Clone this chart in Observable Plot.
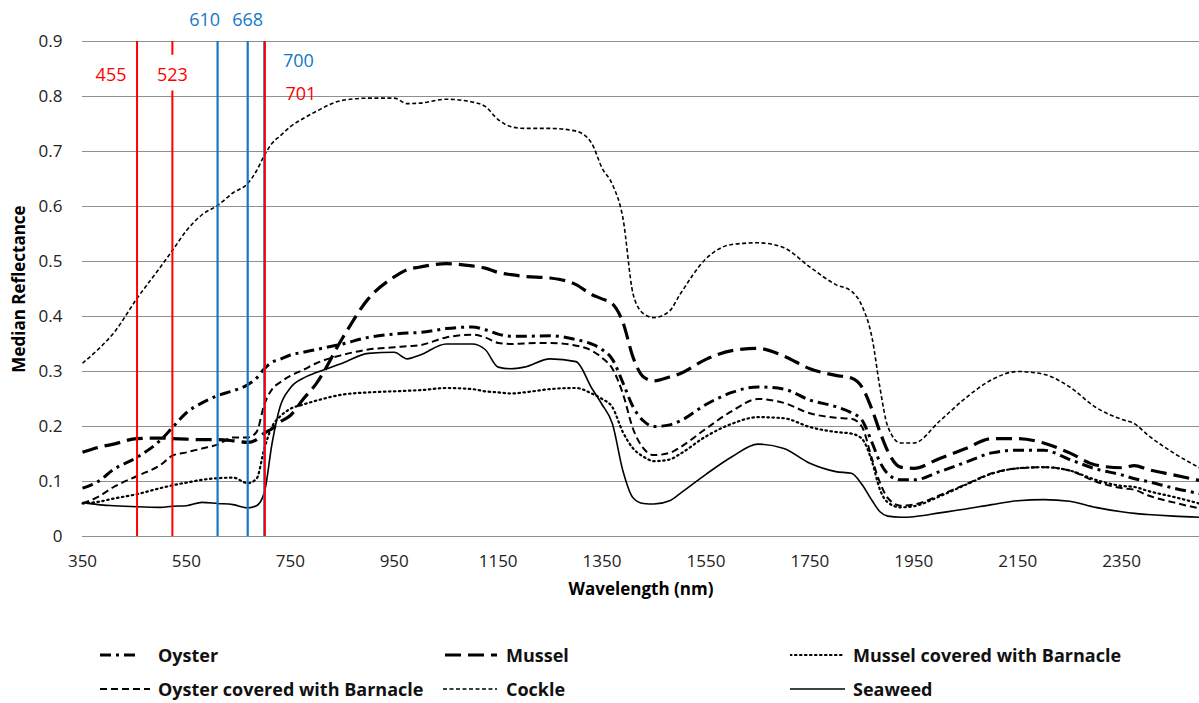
<!DOCTYPE html>
<html><head><meta charset="utf-8">
<script src="https://cdn.jsdelivr.net/npm/d3@7"></script>
<script src="https://cdn.jsdelivr.net/npm/@observablehq/plot@0.6"></script>
<style>
body{margin:0;background:#fff;font-family:"Open Sans",sans-serif;}
#wrap{position:relative;width:1199px;height:703px;overflow:hidden;}
#wrap svg.chart{position:absolute;left:0;top:0;}
.leg{position:absolute;display:flex;align-items:center;font-weight:bold;font-size:18px;line-height:22px;color:#111;white-space:nowrap;}
.leg svg{display:block;}
</style></head><body><div id="wrap"></div>
<script>
const wavelength = [350,380,410,455,500,523,550,580,610,640,668,685,700,715,730,750,775,800,850,900,950,975,1000,1050,1100,1125,1150,1175,1200,1250,1300,1330,1350,1370,1390,1410,1430,1450,1480,1500,1550,1600,1650,1700,1750,1800,1830,1850,1870,1885,1900,1925,1950,2000,2050,2100,2150,2200,2250,2300,2350,2375,2400,2450,2500];

const oyster = [0.088,0.1,0.122,0.144,0.175,0.198,0.225,0.243,0.256,0.265,0.276,0.288,0.305,0.317,0.322,0.33,0.335,0.34,0.35,0.362,0.368,0.37,0.371,0.378,0.381,0.376,0.368,0.364,0.364,0.365,0.358,0.35,0.34,0.322,0.28,0.235,0.21,0.2,0.203,0.21,0.24,0.262,0.272,0.268,0.248,0.236,0.225,0.212,0.17,0.135,0.114,0.103,0.103,0.118,0.135,0.152,0.157,0.157,0.14,0.123,0.112,0.105,0.1,0.088,0.078];

const mussel = [0.153,0.162,0.168,0.178,0.179,0.178,0.177,0.176,0.176,0.174,0.171,0.176,0.188,0.196,0.208,0.22,0.25,0.278,0.36,0.432,0.472,0.485,0.49,0.496,0.492,0.488,0.48,0.476,0.473,0.47,0.458,0.44,0.432,0.423,0.39,0.325,0.29,0.283,0.29,0.296,0.322,0.338,0.342,0.328,0.305,0.293,0.288,0.272,0.23,0.19,0.155,0.126,0.124,0.142,0.16,0.178,0.178,0.17,0.152,0.13,0.125,0.129,0.122,0.112,0.102];

const musselBarnacle = [0.06,0.063,0.069,0.077,0.088,0.093,0.098,0.103,0.106,0.107,0.097,0.105,0.16,0.2,0.218,0.232,0.24,0.247,0.258,0.262,0.264,0.265,0.266,0.27,0.268,0.264,0.262,0.26,0.262,0.268,0.27,0.26,0.25,0.235,0.19,0.16,0.145,0.137,0.14,0.15,0.182,0.205,0.217,0.215,0.199,0.19,0.187,0.178,0.135,0.085,0.062,0.053,0.055,0.073,0.094,0.114,0.124,0.126,0.12,0.103,0.092,0.09,0.083,0.072,0.06];

const oysterBarnacle = [0.06,0.072,0.09,0.11,0.13,0.147,0.153,0.16,0.167,0.18,0.18,0.19,0.24,0.268,0.28,0.292,0.303,0.315,0.33,0.34,0.344,0.346,0.348,0.362,0.367,0.362,0.352,0.35,0.351,0.352,0.347,0.338,0.325,0.305,0.26,0.195,0.16,0.148,0.152,0.162,0.196,0.228,0.25,0.243,0.224,0.216,0.214,0.2,0.14,0.098,0.07,0.056,0.058,0.075,0.095,0.115,0.124,0.126,0.12,0.1,0.088,0.085,0.075,0.062,0.051];

const cockle = [0.315,0.34,0.37,0.433,0.49,0.52,0.556,0.585,0.602,0.625,0.642,0.665,0.693,0.715,0.728,0.745,0.76,0.773,0.793,0.797,0.797,0.787,0.788,0.795,0.79,0.782,0.758,0.745,0.742,0.742,0.737,0.715,0.67,0.64,0.58,0.44,0.405,0.398,0.41,0.44,0.505,0.531,0.534,0.525,0.49,0.458,0.446,0.42,0.36,0.27,0.2,0.17,0.17,0.21,0.252,0.285,0.3,0.295,0.272,0.235,0.213,0.205,0.185,0.152,0.125];

const seaweed = [0.062,0.058,0.056,0.054,0.053,0.055,0.056,0.062,0.06,0.058,0.052,0.056,0.08,0.17,0.235,0.27,0.288,0.298,0.315,0.333,0.335,0.323,0.33,0.35,0.35,0.34,0.308,0.305,0.308,0.323,0.318,0.27,0.24,0.205,0.12,0.07,0.06,0.059,0.065,0.078,0.113,0.145,0.168,0.16,0.133,0.118,0.115,0.095,0.065,0.045,0.037,0.035,0.036,0.043,0.05,0.058,0.065,0.067,0.064,0.053,0.045,0.042,0.04,0.037,0.035];

const xTicks = [350,550,750,950,1150,1350,1550,1750,1950,2150,2350];
const yTicks = [0,0.1,0.2,0.3,0.4,0.5,0.6,0.7,0.8,0.9];

// marker bands (nm) and their labels
const bandNm    = [455, 523, 610, 668, 700, 701];
const bandColor = ["#ff0000","#ff0000","#1477c9","#1477c9","#1477c9","#ff0000"];
const bandLabelY  = [0.838, 0.838, 0.938, 0.938, 0.865, 0.805];
const bandLabelDx = [-26, 0, -13, 0, 34, 36];

const series = [
  {name:"Oyster", values:oyster, width:3, dash:"11,5,3,5", cap:"butt"},
  {name:"Mussel", values:mussel, width:3.2, dash:"16,7", cap:"butt"},
  {name:"Mussel covered with Barnacle", values:musselBarnacle, width:2.2, dash:"1.5,3.5", cap:"round"},
  {name:"Oyster covered with Barnacle", values:oysterBarnacle, width:2, dash:"7,4", cap:"butt"},
  {name:"Cockle", values:cockle, width:1.6, dash:"4,2.5", cap:"butt"},
  {name:"Seaweed", values:seaweed, width:1.6, dash:null, cap:"butt"}
];

const lineMarks = series.map(s => Plot.line(
  wavelength.map((w,i) => ({w, v:s.values[i]})),
  {x:"w", y:"v", stroke:"#000", strokeWidth:s.width, strokeDasharray:s.dash || undefined,
   strokeLinecap:s.cap, curve:"monotone-x"}
));

const bands = bandNm.map((nm,i) => ({nm, color:bandColor[i], ly:bandLabelY[i], dx:bandLabelDx[i], label:String(nm)}));

const chart = Plot.plot({
  width:1199, height:610,
  marginLeft:82, marginRight:0, marginTop:41, marginBottom:74,
  style:{fontFamily:'"Open Sans", sans-serif', fontSize:"16px", color:"#222", background:"transparent"},
  x:{domain:[350,2500], ticks:xTicks, tickFormat:d => String(d), tickSize:0, tickPadding:18,
     label:"Wavelength (nm)", labelAnchor:"center", labelOffset:58, labelArrow:false},
  y:{domain:[0,0.9], ticks:yTicks, tickFormat:d => d === 0 ? "0" : d3.format(".1f")(d), tickSize:0, tickPadding:20,
     label:"Median Reflectance", labelAnchor:"center", labelOffset:70, labelArrow:false},
  marks:[
    Plot.gridY(yTicks, {stroke:"#8f8f8f", strokeOpacity:1, strokeWidth:1}),
    ...lineMarks,
    Plot.ruleX(bands.filter(b => b.color !== "#ff0000"), {x:"nm", y1:0, y2:0.9, stroke:"color", strokeWidth:2.2}),
    Plot.ruleX(bands.filter(b => b.color === "#ff0000"), {x:"nm", y1:0, y2:0.9, stroke:"color", strokeWidth:2}),
    Plot.ruleX(bands.filter(b => b.nm === 523), {x:"nm", y1:0.81, y2:0.875, stroke:"#fff", strokeWidth:4}),
    Plot.text(bands, {x:"nm", y:"ly", text:"label", fill:"color", fontSize:18})
  ]
});
chart.classList.add("chart");
// per-label horizontal offsets
const texts = chart.querySelectorAll("g[aria-label='text'] text");
texts.forEach((t,i) => { t.setAttribute("dx", bands[i].dx); });

// tick labels larger
chart.querySelectorAll("g[aria-label='x-axis tick label'], g[aria-label='y-axis tick label']").forEach(g => {
  g.setAttribute("font-size","17"); g.setAttribute("fill","#222");
});
// axis titles bold, no arrows
chart.querySelectorAll("g[aria-label='x-axis label'] text, g[aria-label='y-axis label'] text").forEach(t => {
  t.textContent = t.textContent.replace(/[\u2190-\u2193]/g, "").trim();
  t.setAttribute("font-weight","bold"); t.setAttribute("font-size","17"); t.setAttribute("fill","#000");
});

const wrap = document.getElementById("wrap");
wrap.appendChild(chart);

// legend
const legendPos = [
  {sx:100, sw:36, tx:158, y:655},
  {sx:445, sw:52, tx:506, y:655},
  {sx:790, sw:55, tx:853, y:655},
  {sx:100, sw:50, tx:158, y:689},
  {sx:443, sw:54, tx:506, y:689},
  {sx:790, sw:55, tx:853, y:689}
];
series.forEach((s,i) => {
  const p = legendPos[i];
  const sw = document.createElementNS("http://www.w3.org/2000/svg","svg");
  sw.setAttribute("width", p.sw); sw.setAttribute("height", 10);
  sw.style.position = "absolute"; sw.style.left = p.sx + "px"; sw.style.top = (p.y - 5) + "px";
  const ln = document.createElementNS("http://www.w3.org/2000/svg","line");
  ln.setAttribute("x1",0); ln.setAttribute("x2",p.sw); ln.setAttribute("y1",5); ln.setAttribute("y2",5);
  ln.setAttribute("stroke","#000"); ln.setAttribute("stroke-width", s.width);
  if (s.dash) ln.setAttribute("stroke-dasharray", s.dash);
  ln.setAttribute("stroke-linecap", s.cap);
  sw.appendChild(ln); wrap.appendChild(sw);
  const lab = document.createElement("div");
  lab.className = "leg"; lab.textContent = s.name;
  lab.style.left = p.tx + "px"; lab.style.top = (p.y - 11) + "px"; lab.style.height = "22px";
  wrap.appendChild(lab);
});
</script></body></html>
